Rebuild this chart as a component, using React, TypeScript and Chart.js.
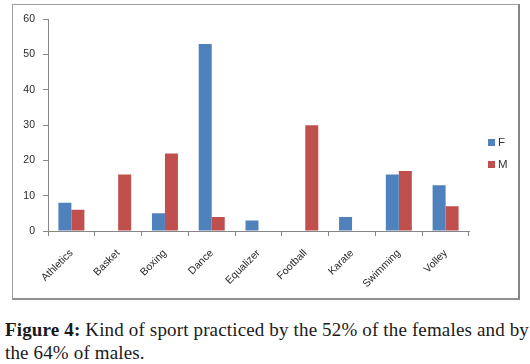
import React, { useEffect, useRef } from "react";
import { Chart, registerables } from "chart.js";

Chart.register(...registerables);

const categories = ["Athletics", "Basket", "Boxing", "Dance", "Equalizer", "Football", "Karate", "Swimming", "Volley"];
const femaleValues = [8, 0, 5, 53, 3, 0, 4, 16, 13];
const maleValues = [6, 16, 22, 4, 0, 30, 0, 17, 7];
const seriesLabels = ["F", "M"];
const seriesColors = ["#4F81BD", "#C0504D"];
const yTicks = [0, 10, 20, 30, 40, 50, 60];

const legendPlugin = {
  id: "sideLegend",
  afterDraw(chart: any) {
    const ctx = chart.ctx;
    ctx.save();
    chart.data.datasets.forEach((ds: any, i: number) => {
      const y = 137 + i * 22;
      ctx.fillStyle = ds.backgroundColor;
      ctx.fillRect(475, y - 3, 7, 7);
      ctx.fillStyle = "#333333";
      ctx.font = "11.5px 'Liberation Sans', Arial, sans-serif";
      ctx.textBaseline = "middle";
      ctx.textAlign = "left";
      ctx.fillText(ds.label, 485, y + 1);
    });
    ctx.restore();
  },
};

export default function App() {
  const canvasRef = useRef<HTMLCanvasElement | null>(null);

  useEffect(() => {
    if (!canvasRef.current) return;
    const axisColor = "#868686";
    const chart = new Chart(canvasRef.current, {
      type: "bar",
      data: {
        labels: categories,
        datasets: [
          { label: seriesLabels[0], data: femaleValues, backgroundColor: seriesColors[0], categoryPercentage: 0.556, barPercentage: 1 },
          { label: seriesLabels[1], data: maleValues, backgroundColor: seriesColors[1], categoryPercentage: 0.556, barPercentage: 1 },
        ],
      },
      options: {
        animation: false,
        responsive: false,
        maintainAspectRatio: false,
        devicePixelRatio: 1,
        layout: { padding: { top: 12, left: 0, right: 49, bottom: 0 } },
        plugins: { legend: { display: false }, tooltip: { enabled: false } },
        scales: {
          x: {
            offset: true,
            grid: { offset: true, drawOnChartArea: false, drawTicks: true, tickLength: 5, color: axisColor },
            border: { display: true, color: axisColor },
            ticks: {
              minRotation: 45,
              maxRotation: 45,
              autoSkip: false,
              padding: 11,
              color: "#2a2a2a",
              font: { family: "'Liberation Sans', Arial, sans-serif", size: 10.5 },
            },
            afterFit: (scale: any) => { scale.height = 67; },
          },
          y: {
            min: 0,
            max: 60,
            afterBuildTicks: (scale: any) => { scale.ticks = yTicks.map((v) => ({ value: v })); },
            grid: { drawOnChartArea: false, drawTicks: true, tickLength: 5, color: axisColor },
            border: { display: true, color: axisColor },
            ticks: {
              padding: 8,
              color: "#2a2a2a",
              font: { family: "'Liberation Sans', Arial, sans-serif", size: 10.5 },
            },
            afterFit: (scale: any) => { scale.width = 35; },
          },
        },
      },
      plugins: [legendPlugin],
    });
    return () => chart.destroy();
  }, []);

  return (
    <div style={{ position: "absolute", left: 0, top: 0, width: 530, height: 364, background: "#fff", overflow: "hidden" }}>
      <div
        style={{
          position: "absolute",
          left: 12,
          top: 4,
          width: 508,
          height: 296,
          boxSizing: "border-box",
          borderLeft: "1px solid #a0a0a0",
          borderTop: "1px solid #a0a0a0",
          borderRight: "2px solid #858585",
          borderBottom: "2px solid #909090",
        }}
      >
        <canvas ref={canvasRef} width={505} height={293} style={{ position: "absolute", left: 0, top: 0, width: 505, height: 293 }} />
      </div>
      <div
        style={{
          position: "absolute",
          left: 5,
          top: 318,
          fontFamily: "'Liberation Serif', 'Times New Roman', serif",
          fontSize: 19,
          letterSpacing: "0.15px",
          lineHeight: "23px",
          color: "#1a1a1a",
          whiteSpace: "nowrap",
        }}
      >
        <div><b>Figure 4:</b> Kind of sport practiced by the 52% of the females and by</div>
        <div>the 64% of males.</div>
      </div>
    </div>
  );
}
